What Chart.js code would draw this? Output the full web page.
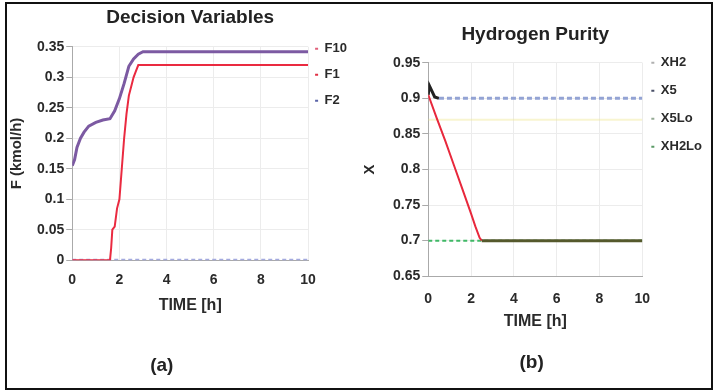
<!DOCTYPE html>
<html>
<head>
<meta charset="utf-8">
<script src="https://cdn.jsdelivr.net/npm/chart.js@4"></script>
<style>
  html, body { margin: 0; padding: 0; background: #fff; }
  body { width: 713px; height: 391px; position: relative; overflow: hidden; }
  #frame { position: absolute; left: 5px; top: 2px; width: 704px; height: 384px; border: 2px solid #111; }
  canvas { position: absolute; }
  #c1 { left: 8px; top: 5px; }
  #c2 { left: 358px; top: 5px; }
</style>
</head>
<body>
<div id="frame"></div>
<canvas id="c1" width="355" height="378"></canvas>
<canvas id="c2" width="360" height="378"></canvas>
<script>
// (a) Decision Variables
const f10Time = [0, 0.1, 0.2, 0.35, 0.5, 0.7, 1.0, 1.3, 1.6, 1.8, 2.0, 2.2, 2.4, 2.6, 2.8, 3.0, 10];
const f10Vals = [0.155, 0.165, 0.185, 0.2, 0.21, 0.22, 0.226, 0.23, 0.232, 0.245, 0.265, 0.29, 0.318, 0.33, 0.338, 0.342, 0.342];
const f1Time = [0, 1.6, 1.65, 1.7, 1.8, 1.9, 2.0, 2.1, 2.2, 2.3, 2.4, 2.5, 2.6, 2.7, 2.8, 10];
const f1Vals = [0, 0, 0.02, 0.05, 0.055, 0.085, 0.1, 0.15, 0.2, 0.24, 0.27, 0.285, 0.3, 0.31, 0.32, 0.32];
const f2Time = [0, 10];
const f2Vals = [0, 0];

// (b) Hydrogen Purity
const xh2Time = [0, 0.4, 0.8, 1.2, 1.6, 2.0, 2.2, 2.4, 2.5, 10];
const xh2Vals = [0.905, 0.872, 0.84, 0.806, 0.772, 0.738, 0.72, 0.704, 0.7, 0.7];
const x5Time = [0, 0.05, 0.3, 0.5, 10];
const x5Vals = [0.905, 0.918, 0.902, 0.9, 0.9];
const x5LoTime = [0, 10];
const x5LoVals = [0.87, 0.87];
const xh2LoTime = [0, 10];
const xh2LoVals = [0.7, 0.7];

const timeTicks = [0, 2, 4, 6, 8, 10];

const FONT = "'Liberation Sans', Arial, sans-serif";
Chart.defaults.font.family = FONT;
Chart.defaults.font.weight = 'bold';
Chart.defaults.color = '#2a2a2a';

const pts = (t, v) => t.map((x, i) => ({ x: x, y: v[i] }));

// move the legend up/left so its first entry sits level with the top tick
const legendNudge = (dx, dy) => ({
  id: 'legendNudge',
  afterLayout(chart) {
    const l = chart.legend;
    l.top -= dy; l.bottom -= dy; l.left -= dx; l.right -= dx;
  }
});

function legendLabels(markers, pad) {
  return {
    boxWidth: 3, boxHeight: 2, padding: pad,
    font: { size: 13, weight: 'bold' },
    generateLabels: chart => Chart.defaults.plugins.legend.labels.generateLabels(chart)
      .map((l, i) => Object.assign(l, { fillStyle: markers[i], strokeStyle: markers[i], lineWidth: 0, lineDash: [] }))
  };
}

function makeChart(id, cfg) {
  return new Chart(document.getElementById(id), {
    type: 'line',
    data: { datasets: cfg.datasets },
    plugins: [legendNudge(6, cfg.legendPad + 6.5 - cfg.legendDrop)],
    options: {
      responsive: false, animation: false,
      layout: { padding: cfg.padding },
      elements: { point: { radius: 0 }, line: { tension: 0 } },
      plugins: {
        title: { display: true, fullSize: false, text: cfg.title, font: { size: 19, weight: 'bold' }, color: '#222', padding: cfg.titlePad },
        subtitle: { display: true, position: 'bottom', text: cfg.sub, font: { size: 19, weight: 'bold' }, color: '#222', padding: cfg.subPad },
        legend: { position: 'right', align: 'start', fullSize: false, labels: legendLabels(cfg.markers, cfg.legendPad) },
        tooltip: { enabled: false }
      },
      scales: {
        x: {
          type: 'linear', min: 0, max: 10,
          afterBuildTicks: s => { s.ticks = timeTicks.map(v => ({ value: v })); },
          grid: { color: '#ececec', drawTicks: false },
          border: { color: '#aaa' },
          ticks: { font: { size: 14, weight: 'bold' }, padding: cfg.xTickPad, maxRotation: 0 },
          title: { display: true, text: 'TIME [h]', font: { size: 16, weight: 'bold' }, padding: { top: cfg.xTitlePad, bottom: 0 } }
        },
        y: {
          min: cfg.yMin, max: cfg.yMax,
          ticks: { stepSize: 0.05, font: { size: 14, weight: 'bold' }, padding: 2, callback: v => +v.toFixed(2) },
          grid: { color: '#ececec', tickLength: 6, tickColor: '#aaa' },
          border: { color: '#aaa' },
          title: { display: true, text: cfg.yTitle, font: { size: 15, weight: 'bold' }, padding: cfg.yTitlePad }
        }
      }
    }
  });
}

makeChart('c1', {
  title: 'Decision Variables', sub: '(a)         ', yTitle: 'F (kmol/h)',
  yMin: 0, yMax: 0.35,
  padding: { left: 0, right: 0, top: 0, bottom: 0 },
  titlePad: { top: 1, bottom: 18 },
  subPad: { top: 39, bottom: 6 },
  xTickPad: 12, xTitlePad: -5,
  yTitlePad: { top: 0, bottom: 9 },
  legendPad: 13, legendDrop: 2,
  markers: ['#e0607a', '#e03044', '#5a64a8'],
  datasets: [
    { label: 'F10', data: pts(f10Time, f10Vals), borderColor: '#7c5aa2', borderWidth: 3 },
    { label: 'F1', data: pts(f1Time, f1Vals), borderColor: '#ea2a40', borderWidth: 2 },
    { label: 'F2', data: pts(f2Time, f2Vals), borderColor: '#a4aade', borderWidth: 3, borderDash: [4, 3] }
  ]
});

makeChart('c2', {
  title: 'Hydrogen Purity', sub: '(b)   ', yTitle: 'X',
  yMin: 0.65, yMax: 0.95,
  padding: { left: 3, right: 0, top: 0, bottom: 0 },
  titlePad: { top: 18, bottom: 17 },
  subPad: { top: 20, bottom: 9 },
  xTickPad: 15, xTitlePad: -11,
  yTitlePad: { top: 0, bottom: 12 },
  legendPad: 15, legendDrop: 0,
  markers: ['#b0b0b0', '#4a5068', '#94aa94', '#5a9a66'],
  datasets: [
    { label: 'XH2', data: pts(xh2Time, xh2Vals), borderColor: '#e8283c', borderWidth: 2,
      segment: { borderColor: c => c.p0.parsed.x >= 2.5 ? '#55592c' : undefined, borderWidth: c => c.p0.parsed.x >= 2.5 ? 3 : undefined } },
    { label: 'X5', data: pts(x5Time, x5Vals), borderColor: '#93a3d4', borderWidth: 3, borderDash: [5, 3],
      segment: { borderColor: c => c.p0.parsed.x < 0.5 ? '#222' : undefined, borderDash: c => c.p0.parsed.x < 0.5 ? [] : undefined } },
    { label: 'X5Lo', data: pts(x5LoTime, x5LoVals), borderColor: 'rgba(240,232,150,0.45)', borderWidth: 2 },
    { label: 'XH2Lo', data: pts(xh2LoTime, xh2LoVals), borderColor: '#3fb866', borderWidth: 2, borderDash: [4, 3] }
  ]
});
</script>
</body>
</html>
